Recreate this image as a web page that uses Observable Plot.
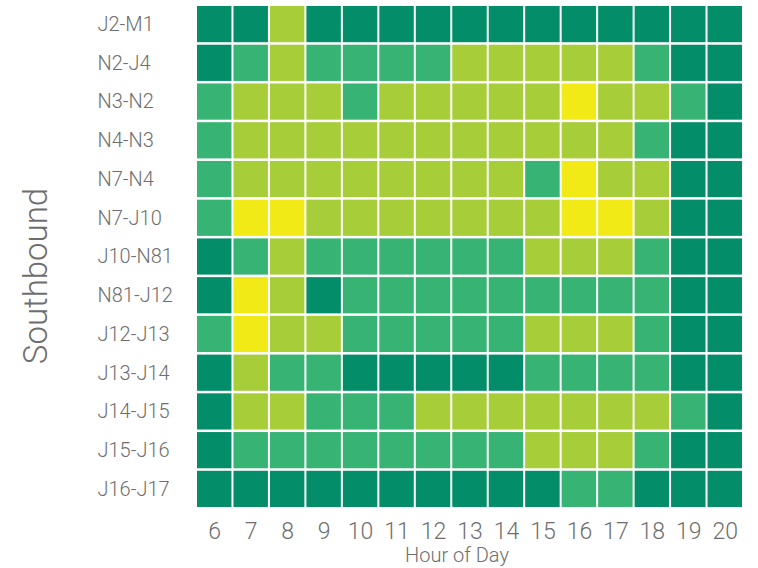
<!DOCTYPE html>
<html>
<head>
<meta charset="utf-8">
<script src="https://cdn.jsdelivr.net/npm/d3@7"></script>
<script src="https://cdn.jsdelivr.net/npm/@observablehq/plot@0.6"></script>
<style>
  html, body { margin: 0; padding: 0; background: #fff; }
  #chart { width: 758px; height: 568px; }
</style>
</head>
<body>
<div id="chart"></div>
<script>
// Hours (columns) and road segments (rows)
const hours = [6, 7, 8, 9, 10, 11, 12, 13, 14, 15, 16, 17, 18, 19, 20];
const segments = ["J2-M1", "N2-J4", "N3-N2", "N4-N3", "N7-N4", "N7-J10", "J10-N81",
  "N81-J12", "J12-J13", "J13-J14", "J14-J15", "J15-J16", "J16-J17"];

// Congestion level per hour (0 = dark green ... 3 = yellow)
const rowJ2_M1   = [0, 0, 2, 0, 0, 0, 0, 0, 0, 0, 0, 0, 0, 0, 0];
const rowN2_J4   = [0, 1, 2, 1, 1, 1, 1, 2, 2, 2, 2, 2, 1, 0, 0];
const rowN3_N2   = [1, 2, 2, 2, 1, 2, 2, 2, 2, 2, 3, 2, 2, 1, 0];
const rowN4_N3   = [1, 2, 2, 2, 2, 2, 2, 2, 2, 2, 2, 2, 1, 0, 0];
const rowN7_N4   = [1, 2, 2, 2, 2, 2, 2, 2, 2, 1, 3, 2, 2, 0, 0];
const rowN7_J10  = [1, 3, 3, 2, 2, 2, 2, 2, 2, 2, 3, 3, 2, 0, 0];
const rowJ10_N81 = [0, 1, 2, 1, 1, 1, 1, 1, 1, 2, 2, 2, 1, 0, 0];
const rowN81_J12 = [0, 3, 2, 0, 1, 1, 1, 1, 1, 1, 1, 1, 1, 0, 0];
const rowJ12_J13 = [1, 3, 2, 2, 1, 1, 1, 1, 1, 2, 2, 2, 1, 0, 0];
const rowJ13_J14 = [0, 2, 1, 1, 0, 0, 0, 0, 0, 1, 1, 1, 1, 0, 0];
const rowJ14_J15 = [0, 2, 2, 1, 1, 1, 2, 2, 2, 2, 2, 2, 2, 1, 0];
const rowJ15_J16 = [0, 1, 1, 1, 1, 1, 1, 1, 1, 2, 2, 2, 1, 0, 0];
const rowJ16_J17 = [0, 0, 0, 0, 0, 0, 0, 0, 0, 0, 1, 1, 0, 0, 0];

const levelColors = ["#038e69", "#37b374", "#a7cd39", "#f2ea17"];

const rows = [rowJ2_M1, rowN2_J4, rowN3_N2, rowN4_N3, rowN7_N4, rowN7_J10, rowJ10_N81,
  rowN81_J12, rowJ12_J13, rowJ13_J14, rowJ14_J15, rowJ15_J16, rowJ16_J17];

const data = [];
segments.forEach((s, i) => {
  hours.forEach((h, j) => data.push({segment: s, hour: h, level: rows[i][j]}));
});

const chart = Plot.plot({
  width: 758,
  height: 568,
  marginLeft: 197,
  marginRight: 16,
  marginTop: 6,
  marginBottom: 61,
  style: {fontFamily: "Roboto, sans-serif", fontWeight: 300, color: "#6e6e6e", background: "#fff"},
  x: {type: "band", domain: hours, paddingInner: 0.055, paddingOuter: 0, round: false, label: null},
  y: {type: "band", domain: segments, paddingInner: 0.065, paddingOuter: 0, round: false, label: null},
  color: {type: "ordinal", domain: [0, 1, 2, 3], range: levelColors},
  marks: [
    Plot.cell(data, {x: "hour", y: "segment", fill: "level"}),
    Plot.axisX({tickSize: 0, tickPadding: 15, fontSize: 23, label: null}),
    Plot.axisY({tickSize: 0, tickPadding: 100, textAnchor: "start", fontSize: 20, label: null}),
    Plot.text(["Southbound"], {frameAnchor: "left", textAnchor: "middle", lineAnchor: "middle",
      dx: -161, dy: 19, rotate: -90, fontSize: 33, fill: "#6e6e6e", text: d => d}),
    Plot.text(["Hour of Day"], {frameAnchor: "bottom", textAnchor: "middle", lineAnchor: "middle",
      dx: -13, dy: 48, fontSize: 20, fill: "#6e6e6e", text: d => d})
  ]
});
document.getElementById("chart").appendChild(chart);
</script>
</body>
</html>
